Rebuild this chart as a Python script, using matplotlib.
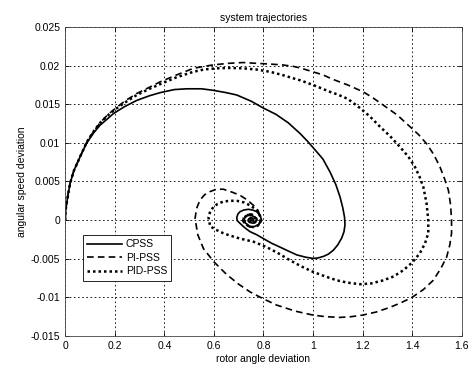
import matplotlib
matplotlib.use("Agg")
import matplotlib.pyplot as plt

plt.rcParams['font.family'] = ['Liberation Sans', 'DejaVu Sans']

# Phase-plane trajectories: (rotor angle deviation, angular speed deviation)
cpss_x = [0, 0.001, 0.003, 0.007, 0.012, 0.02, 0.035, 0.06, 0.087, 0.115, 0.141,
          0.17, 0.195, 0.24, 0.289, 0.34, 0.383, 0.44, 0.491, 0.55, 0.598, 0.65,
          0.692, 0.75, 0.8, 0.85, 0.9, 0.948, 0.975, 1.0, 1.04, 1.069, 1.092, 1.109,
          1.12, 1.127, 1.129, 1.125, 1.116, 1.1, 1.082, 1.062, 1.042, 1.02, 1.0,
          0.97, 0.934, 0.9, 0.867, 0.833, 0.8, 0.773, 0.746, 0.725, 0.708, 0.695,
          0.692, 0.697, 0.706, 0.72, 0.739, 0.757, 0.773, 0.785, 0.792, 0.788,
          0.78, 0.766, 0.753, 0.74, 0.728, 0.722, 0.726, 0.738, 0.752, 0.765,
          0.772, 0.768, 0.757, 0.745, 0.738, 0.742, 0.752, 0.76, 0.757, 0.75, 0.748]
cpss_y = [0, 0.0008, 0.0016, 0.0024, 0.0034, 0.0048, 0.0064, 0.0082, 0.0100,
          0.0113, 0.0123, 0.0131, 0.0138, 0.0147, 0.0155, 0.0161, 0.0165, 0.0169,
          0.0170, 0.0170, 0.0168, 0.0165, 0.0162, 0.0154, 0.0145, 0.0137, 0.0126,
          0.0112, 0.0103, 0.0094, 0.0079, 0.0062, 0.0046, 0.0030, 0.0016, 0.0004,
          -0.0006, -0.0015, -0.0023, -0.0032, -0.0039, -0.0044, -0.0047, -0.0049,
          -0.00496, -0.0048, -0.0045, -0.0040, -0.0035, -0.0030, -0.0024, -0.0019,
          -0.0015, -0.0010, -0.0005, -0.0001, 0.0003, 0.0008, 0.0011, 0.0013,
          0.0014, 0.0013, 0.0011, 0.0006, 0.0001, -0.0003, -0.0006, -0.0008,
          -0.0009, -0.0007, -0.0004, 0.0, 0.0004, 0.0006, 0.0006, 0.0004, 0.0001,
          -0.0002, -0.0004, -0.0003, 0.0, 0.0002, 0.0003, 0.0001, -0.0001, -0.0001,
          0.0]

pi_x = [0, 0.001, 0.003, 0.007, 0.012, 0.02, 0.035, 0.06, 0.087, 0.115, 0.141,
        0.17, 0.2, 0.24, 0.289, 0.34, 0.383, 0.45, 0.517, 0.56, 0.598, 0.66, 0.719,
        0.77, 0.827, 0.875, 0.921, 0.948, 1.0, 1.04, 1.082, 1.14, 1.203, 1.243,
        1.283, 1.34, 1.391, 1.425, 1.458, 1.487, 1.512, 1.53, 1.546, 1.555, 1.559,
        1.559, 1.552, 1.539, 1.515, 1.485, 1.445, 1.4, 1.355, 1.31, 1.255, 1.2,
        1.155, 1.109, 1.05, 1.0, 0.93, 0.853, 0.8, 0.746, 0.70, 0.65, 0.60, 0.558,
        0.535, 0.524, 0.53, 0.544, 0.563, 0.585, 0.61, 0.638, 0.675, 0.706, 0.735,
        0.76, 0.777, 0.786, 0.787, 0.78, 0.765, 0.745, 0.727, 0.716, 0.72, 0.735,
        0.752, 0.768, 0.774, 0.768, 0.755, 0.742, 0.74, 0.748, 0.758, 0.76, 0.752]
pi_y = [0, 0.0008, 0.0016, 0.0024, 0.0034, 0.0048, 0.0064, 0.0082, 0.0101, 0.0115,
        0.0126, 0.0136, 0.0144, 0.0154, 0.0164, 0.0172, 0.0179, 0.0188, 0.01965,
        0.0199, 0.0201, 0.0203, 0.0204, 0.0203, 0.0202, 0.0201, 0.0199, 0.0197,
        0.0192, 0.0188, 0.0182, 0.0175, 0.0166, 0.0158, 0.0149, 0.0136, 0.0121,
        0.0111, 0.0099, 0.0085, 0.0069, 0.0054, 0.0039, 0.0020, 0.0, -0.0017,
        -0.0032, -0.0048, -0.0063, -0.0078, -0.0090, -0.0100, -0.0107, -0.0113,
        -0.0119, -0.0123, -0.0125, -0.0126, -0.0125, -0.0123, -0.0118, -0.0110,
        -0.0102, -0.0093, -0.0083, -0.0070, -0.0054, -0.0037, -0.0019, 0.0002,
        0.0015, 0.0026, 0.0033, 0.0037, 0.0040, 0.0040, 0.0036, 0.0032, 0.0026,
        0.0019, 0.0013, 0.0006, -0.0001, -0.0006, -0.0009, -0.0009, -0.0006,
        -0.0001, 0.0004, 0.0007, 0.0008, 0.0005, 0.0001, -0.0003, -0.0004, -0.0002,
        0.0001, 0.0003, 0.0002, 0.0, -0.0001]

pid_x = [0, 0.001, 0.003, 0.007, 0.012, 0.02, 0.035, 0.06, 0.087, 0.115, 0.141,
         0.17, 0.2, 0.24, 0.289, 0.34, 0.383, 0.45, 0.517, 0.56, 0.611, 0.66, 0.719,
         0.77, 0.827, 0.875, 0.921, 0.948, 1.0, 1.069, 1.096, 1.14, 1.19, 1.23, 1.27,
         1.31, 1.35, 1.385, 1.411, 1.43, 1.445, 1.458, 1.465, 1.465, 1.452, 1.431,
         1.4, 1.364, 1.325, 1.283, 1.235, 1.19, 1.14, 1.096, 1.05, 1.0, 0.953, 0.907,
         0.86, 0.813, 0.76, 0.706, 0.665, 0.638, 0.605, 0.585, 0.578, 0.585, 0.598,
         0.615, 0.638, 0.665, 0.692, 0.72, 0.746, 0.773, 0.787, 0.788, 0.778, 0.76,
         0.74, 0.725, 0.72, 0.728, 0.745, 0.762, 0.77, 0.764, 0.75, 0.74, 0.745,
         0.755, 0.757, 0.75]
pid_y = [0, 0.0008, 0.0016, 0.0024, 0.0034, 0.0048, 0.0064, 0.0082, 0.0101, 0.0115,
         0.0126, 0.0135, 0.0143, 0.0152, 0.0162, 0.0170, 0.0176, 0.0185, 0.0192,
         0.0195, 0.01965, 0.0197, 0.01965, 0.0195, 0.0192, 0.0188, 0.01835, 0.0181,
         0.0175, 0.0166, 0.0163, 0.0157, 0.0145, 0.0134, 0.0121, 0.0109, 0.0095,
         0.0082, 0.0069, 0.0056, 0.0043, 0.0022, 0.0, -0.0017, -0.0030, -0.0043,
         -0.0055, -0.0065, -0.0073, -0.0078, -0.0082, -0.0083, -0.0081, -0.0078,
         -0.0073, -0.0067, -0.0060, -0.0052, -0.0043, -0.0035, -0.0028, -0.0024,
         -0.0020, -0.0017, -0.0012, -0.0008, 0.0004, 0.0011, 0.0017, 0.0021, 0.0024,
         0.0025, 0.0025, 0.0023, 0.0019, 0.0013, 0.0005, -0.0002, -0.0007, -0.0009,
         -0.0008, -0.0004, 0.0001, 0.0005, 0.0007, 0.0005, 0.0001, -0.0003, -0.0004,
         -0.0001, 0.0002, 0.0002, 0.0, -0.0001]

x_ticks = [0, 0.2, 0.4, 0.6, 0.8, 1, 1.2, 1.4, 1.6]
x_tick_labels = ['0', '0.2', '0.4', '0.6', '0.8', '1', '1.2', '1.4', '1.6']
y_ticks = [-0.015, -0.01, -0.005, 0, 0.005, 0.01, 0.015, 0.02, 0.025]
y_tick_labels = ['-0.015', '-0.01', '-0.005', '0', '0.005', '0.01', '0.015', '0.02', '0.025']

fig = plt.figure(figsize=(4.76, 3.70), dpi=100)
ax = fig.add_axes([0.137, 0.092, 0.833, 0.835])

ax.plot(cpss_x, cpss_y, color='black', lw=1.2, ls='-', label='CPSS')
ax.plot(pi_x, pi_y, color='black', lw=1.2, ls=(0, (4, 2.5)), label='PI-PSS')
ax.plot(pid_x, pid_y, color='black', lw=1.8, ls=(0, (1, 1.2)), label='PID-PSS')

ax.set_xlim(0, 1.6)
ax.set_ylim(-0.015, 0.025)
ax.set_xticks(x_ticks)
ax.set_xticklabels(x_tick_labels)
ax.set_yticks(y_ticks)
ax.set_yticklabels(y_tick_labels)
ax.tick_params(direction='in', length=3, width=0.6, labelsize=7.5, colors='black',
               top=True, right=True)
ax.grid(True, color='black', ls=(0, (2, 3)), lw=0.6)
for s in ax.spines.values():
    s.set_linewidth(0.6)
    s.set_color('#444444')

ax.set_title('system trajectories', fontsize=7.5, pad=4)
ax.set_xlabel('rotor angle deviation', fontsize=7.5, labelpad=2)
ax.set_ylabel('angular speed deviation', fontsize=7.5, labelpad=3)

leg = ax.legend(loc='lower left', bbox_to_anchor=(0.045, 0.179), fontsize=7.5,
                frameon=True, fancybox=False, edgecolor='black', framealpha=1,
                handlelength=3.3, handletextpad=0.4, borderpad=0.4,
                labelspacing=0.35, borderaxespad=0)
leg.get_frame().set_linewidth(0.6)

fig.savefig('out.png', dpi=100)
